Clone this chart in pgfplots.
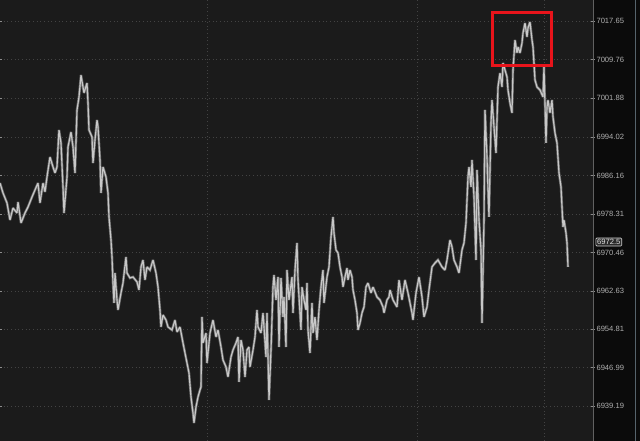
\documentclass[border=0pt]{standalone}
\usepackage{pgfplots}
\pgfplotsset{compat=1.18}
\usepackage{fontspec}
\setmainfont{Liberation Sans}
\definecolor{bg}{HTML}{1B1B1B}
\definecolor{panel}{HTML}{0B0B0B}
\definecolor{gridc}{HTML}{434343}
\definecolor{lab}{HTML}{B0B0B0}
\definecolor{price}{HTML}{C8C8C8}
\definecolor{priced}{HTML}{6A6A6A}
\definecolor{edge}{HTML}{56646C}
\definecolor{tagfill}{HTML}{2A2A2A}
\definecolor{tagline}{HTML}{CFCFCF}
\definecolor{boxred}{HTML}{E8141B}
\pgfplotstableread{
x y
0 6984.63
3 6982.60
7 6980.56
10 6977.09
13 6979.54
17 6978.52
18 6980.76
21 6976.48
25 6978.52
28 6979.74
32 6981.78
35 6983.21
38 6984.63
40 6980.56
43 6984.63
45 6982.80
47 6985.86
50 6989.93
53 6987.90
55 6986.67
57 6987.90
59 6995.44
61 6992.79
63 6983.82
64 6978.52
67 6985.86
68 6991.97
71 6995.03
73 6991.97
75 6986.67
77 6999.51
79 7002.16
81 7006.64
83 7004.20
84 7002.98
87 7005.01
88 7000.94
89 6995.44
92 6994.01
93 6988.71
95 6993.40
97 6997.47
98 6996.05
100 6989.32
101 6982.60
103 6987.90
106 6985.86
108 6982.60
109 6977.71
111 6973.02
112 6969.55
113 6964.25
114 6960.18
115 6966.29
117 6960.79
118 6958.75
121 6962.22
123 6964.25
126 6969.55
127 6966.29
130 6965.27
133 6965.48
137 6964.46
139 6962.83
141 6967.52
143 6968.94
145 6964.87
147 6967.52
150 6966.90
153 6968.94
156 6966.29
158 6963.44
160 6958.75
161 6955.29
163 6957.73
166 6956.71
168 6955.29
172 6954.68
175 6956.71
177 6954.27
180 6955.29
183 6952.03
185 6949.99
187 6947.95
189 6945.91
191 6941.02
193 6937.76
194 6935.72
196 6938.98
198 6941.02
200 6942.45
201 6943.06
202 6957.33
203 6952.03
206 6954.06
207 6947.95
210 6954.06
213 6956.71
216 6953.25
218 6954.68
221 6951.21
223 6948.56
226 6947.14
228 6945.10
231 6949.17
233 6950.60
236 6952.03
238 6953.25
239 6944.08
241 6952.64
243 6950.60
245 6945.10
247 6950.60
249 6951.21
250 6947.14
253 6950.60
255 6953.25
257 6958.75
258 6955.29
261 6954.06
263 6958.14
264 6955.29
266 6949.17
267 6958.14
269 6940.41
271 6950.60
273 6963.44
274 6965.88
276 6960.79
278 6965.48
279 6951.21
281 6965.27
283 6957.33
284 6961.40
286 6951.21
287 6966.90
289 6960.79
292 6965.48
293 6958.14
295 6966.90
297 6972.41
298 6964.87
301 6954.68
302 6963.44
304 6960.79
306 6958.75
307 6964.25
308 6954.68
310 6949.99
312 6960.18
313 6954.06
315 6957.33
317 6952.64
319 6958.75
321 6963.44
323 6966.90
324 6960.18
327 6965.48
329 6967.52
331 6973.63
333 6977.71
334 6974.44
336 6970.98
338 6970.37
340 6967.52
342 6965.48
343 6963.44
345 6965.48
347 6967.31
348 6964.87
350 6966.90
352 6965.48
353 6962.83
355 6960.79
357 6958.14
358 6954.68
360 6956.10
362 6958.14
364 6959.36
366 6963.44
368 6964.25
371 6962.22
373 6963.44
377 6961.40
380 6960.79
383 6959.36
384 6958.14
387 6960.79
389 6961.40
390 6962.83
393 6960.79
397 6959.36
399 6964.87
402 6960.79
405 6964.87
408 6962.22
412 6958.14
413 6956.71
416 6962.22
419 6965.48
422 6961.40
424 6957.33
427 6959.36
429 6962.83
432 6967.52
435 6968.33
438 6968.94
442 6967.52
445 6966.90
447 6968.94
450 6973.02
452 6971.59
454 6968.94
457 6967.52
459 6966.29
462 6970.98
464 6972.41
466 6976.48
468 6985.86
469 6987.90
471 6983.82
472 6989.32
474 6981.78
476 6968.94
477 6987.28
479 6977.09
481 6970.98
482 6956.10
484 6977.09
485 6999.51
487 6989.93
488 6983.21
489 6977.71
491 6996.86
492 7001.55
494 6996.05
496 6990.75
498 7004.20
500 7007.05
502 7004.20
503 7009.09
505 7007.66
507 7006.24
508 7003.59
510 7000.94
512 6998.90
513 7007.66
515 7013.78
517 7011.13
518 7012.35
520 7011.13
522 7013.17
523 7015.20
525 7017.24
527 7014.39
528 7016.22
530 7017.45
532 7013.78
533 7012.35
535 7005.63
537 7004.20
540 7003.59
543 7002.16
544 7008.28
546 6992.79
547 7000.12
548 7001.55
550 6998.90
552 7001.55
553 6998.09
555 6994.82
557 6992.79
559 6986.67
561 6983.82
562 6979.74
563 6975.67
564 6977.09
566 6974.44
567 6972.41
568 6967.52
}\pricedata
\begin{document}
\begin{tikzpicture}
\useasboundingbox (0,0) rectangle (480pt,330.75pt);
\fill[panel] (0,0) rectangle (480pt,330.75pt);
\draw[edge, line width=0.8pt] (476.6pt,0) -- (476.6pt,330.75pt);
\begin{axis}[
  at={(0,0)}, anchor=south west,
  scale only axis, width=444.75pt, height=330.75pt,
  xmin=0, xmax=593, ymin=6932.05, ymax=7021.93,
  axis background/.style={fill=bg},
  axis line style={draw=none},
  clip=false,
  xtick={207,417,544}, xticklabels={}, x tick style={draw=none},
  ytick={6939.19,6946.99,6954.81,6962.63,6970.46,6978.31,6986.16,6994.02,7001.88,7009.76,7017.65},
  yticklabels={6939.19,6946.99,6954.81,6962.63,6970.46,6978.31,6986.16,6994.02,7001.88,7009.76,7017.65},
  yticklabel pos=right,
  y tick style={draw=lab!80!black, line width=0.5pt},
  tick align=center, major tick length=2.5pt,
  grid=major,
  major grid style={gridc, dash pattern=on 0.75pt off 2pt, line width=0.6pt},
  yticklabel style={font=\fontsize{5.7}{7}\selectfont, text=lab, anchor=west, inner sep=0.6pt, xshift=0.6pt},
]
\addplot[priced, line width=1.9pt, line join=miter, miter limit=2] table[x=x,y=y] {\pricedata};
\addplot[price, line width=0.85pt, line join=miter, miter limit=2] table[x=x,y=y] {\pricedata};
\draw[lab!55!black, line width=0.75pt] (rel axis cs:1,0) -- (rel axis cs:1,1);
\draw[boxred, line width=2.25pt] (axis cs:492,7019.28) rectangle (axis cs:551,7008.48);
\node[draw=tagline, fill=tagfill, rounded corners=0.8pt, line width=0.5pt, inner sep=1pt,
  font=\fontsize{5.7}{7}\selectfont, text=white!90!black, anchor=west] at (axis cs:595.5,6972.6) {6972.5};
\end{axis}
\end{tikzpicture}
\end{document}
